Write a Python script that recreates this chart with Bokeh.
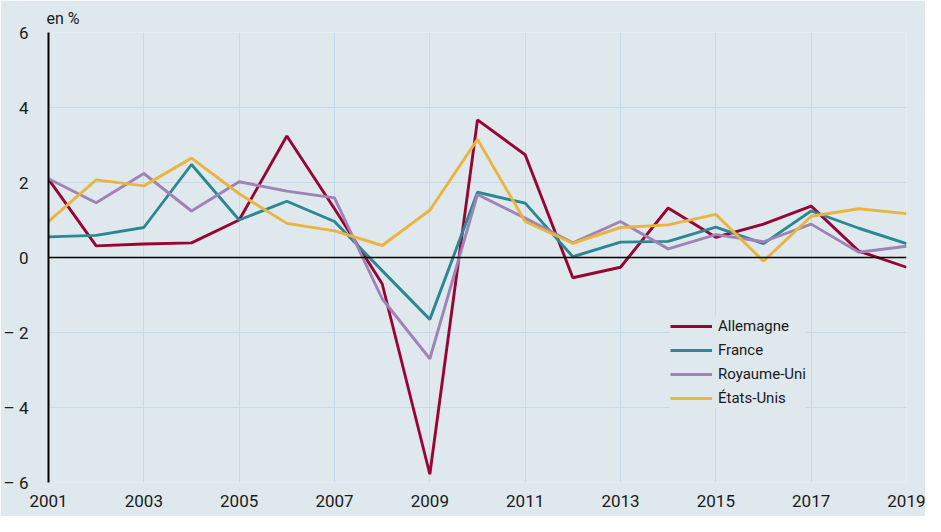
from bokeh.plotting import figure
from bokeh.models import FixedTicker, Span, Legend, LegendItem
from bokeh.embed import file_html
from bokeh.resources import INLINE

years = list(range(2001, 2020))
allemagne = [2.09, 0.31, 0.36, 0.39, 1.00, 3.24, 1.30, -0.70, -5.78, 3.67,
             2.74, -0.54, -0.26, 1.32, 0.54, 0.89, 1.37, 0.17, -0.26]
france = [0.55, 0.59, 0.80, 2.48, 1.00, 1.50, 0.96, -0.35, -1.65, 1.74,
          1.45, 0.02, 0.41, 0.43, 0.81, 0.37, 1.24, 0.78, 0.37]
royaume_uni = [2.10, 1.46, 2.24, 1.24, 2.02, 1.77, 1.59, -1.10, -2.70, 1.68,
               1.05, 0.39, 0.96, 0.23, 0.61, 0.42, 0.89, 0.14, 0.30]
etats_unis = [0.96, 2.07, 1.91, 2.65, 1.70, 0.91, 0.71, 0.32, 1.26, 3.15,
              0.96, 0.38, 0.80, 0.87, 1.15, -0.10, 1.10, 1.30, 1.17]

series_names = ["Allemagne", "France", "Royaume-Uni", "États-Unis"]
series_colors = ["#970534", "#2b8893", "#a083b6", "#e9b53f"]
x_ticks = list(range(2001, 2020, 2))
y_ticks = [-6, -4, -2, 0, 2, 4, 6]
y_tick_labels = {-6: "– 6", -4: "– 4", -2: "– 2", 0: "0", 2: "2", 4: "4", 6: "6"}

BG = "#dee8ed"
GRID = "#c6daee"
FONT = "Roboto"

p = figure(width=925, height=516, x_range=(2001, 2019), y_range=(-6, 6),
           output_backend="svg", toolbar_location=None,
           min_border_left=37, min_border_right=19,
           min_border_top=32, min_border_bottom=34,
           background_fill_color=BG, border_fill_color=BG,
           title="en %")
p.outline_line_color = None

p.title.text_font = FONT
p.title.text_font_size = "16px"
p.title.text_font_style = "normal"
p.title.text_color = "#1a1a1a"
p.title.align = "left"
p.title.offset = -2

p.xaxis.ticker = FixedTicker(ticks=x_ticks)
p.yaxis.ticker = FixedTicker(ticks=y_ticks)
p.yaxis.major_label_overrides = y_tick_labels

for ax in (p.xaxis, p.yaxis):
    ax.major_label_text_font = FONT
    ax.major_label_text_font_size = "17px"
    ax.major_label_text_color = "#1a1a1a"
    ax.major_tick_line_color = None
    ax.minor_tick_line_color = None

p.xaxis.axis_line_color = None
p.xaxis.major_label_standoff = 6
p.yaxis.axis_line_color = "black"
p.yaxis.axis_line_width = 2
p.yaxis.major_label_standoff = 14

p.xgrid.grid_line_color = GRID
p.ygrid.grid_line_color = GRID
p.xgrid.grid_line_width = 1
p.ygrid.grid_line_width = 1

p.add_layout(Span(location=0, dimension="width", line_color="black", line_width=1.5))

data = [allemagne, france, royaume_uni, etats_unis]
items = []
for name, vals, col in zip(series_names, data, series_colors):
    r = p.line(years, vals, line_color=col, line_width=2.9)
    items.append(LegendItem(label=name, renderers=[r]))

legend = Legend(items=items, location=(622, 74),
                background_fill_color=BG, background_fill_alpha=1.0,
                border_line_color=None,
                label_text_font=FONT, label_text_font_size="15px",
                label_text_color="#1a1a1a",
                glyph_width=42, glyph_height=20, label_height=20,
                label_standoff=6, spacing=4, padding=4, margin=0)
p.add_layout(legend)

open("out.html", "w").write(file_html(p, INLINE))
